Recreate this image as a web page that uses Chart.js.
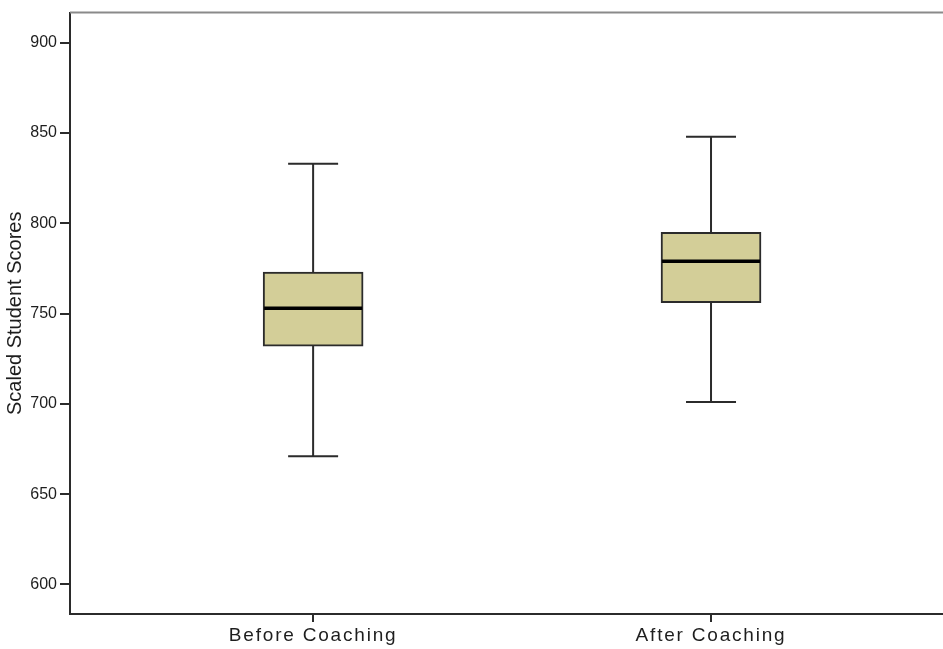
<!DOCTYPE html>
<html>
<head>
<meta charset="utf-8">
<script src="https://cdn.jsdelivr.net/npm/chart.js@4/dist/chart.umd.min.js"></script>
<style>
  html, body { margin: 0; padding: 0; background: #fff; overflow: hidden; }
  #wrap { width: 943px; height: 649px; }
</style>
</head>
<body>
<div id="wrap"><canvas id="box"></canvas></div>
<script>
// Boxplot of scaled student scores, before / after coaching
var categories   = ['Before Coaching', 'After Coaching'];
var whiskerLow   = [671, 701];
var q1           = [732, 756];
var medians      = [753, 779];
var q3           = [773, 795];
var whiskerHigh  = [833, 848];
var yTicks       = [600, 650, 700, 750, 800, 850, 900];

var boxFill   = '#d3ce98';
var lineColor = '#2b2b2b';

// boxes as floating bars, x = 1..n on a linear scale
var boxData = categories.map(function (c, i) {
    return { x: i + 1, y: [q1[i], q3[i]] };
});

// whiskers, caps and medians drawn on top of the bars
var boxExtras = {
    id: 'boxExtras',
    afterDatasetsDraw: function (chart) {
        var ctx = chart.ctx;
        var xs = chart.scales.x, ys = chart.scales.y;
        ctx.save();
        categories.forEach(function (c, i) {
            var cx = xs.getPixelForValue(i + 1);
            var capHalf = 25, boxHalf = 49;
            ctx.strokeStyle = lineColor;
            ctx.lineWidth = 2;
            ctx.beginPath();
            ctx.moveTo(cx, ys.getPixelForValue(q3[i]));
            ctx.lineTo(cx, ys.getPixelForValue(whiskerHigh[i]));
            ctx.moveTo(cx, ys.getPixelForValue(q1[i]));
            ctx.lineTo(cx, ys.getPixelForValue(whiskerLow[i]));
            ctx.moveTo(cx - capHalf, ys.getPixelForValue(whiskerHigh[i]));
            ctx.lineTo(cx + capHalf, ys.getPixelForValue(whiskerHigh[i]));
            ctx.moveTo(cx - capHalf, ys.getPixelForValue(whiskerLow[i]));
            ctx.lineTo(cx + capHalf, ys.getPixelForValue(whiskerLow[i]));
            ctx.stroke();

            ctx.strokeStyle = '#000';
            ctx.lineWidth = 3.5;
            ctx.beginPath();
            ctx.moveTo(cx - boxHalf, ys.getPixelForValue(medians[i]));
            ctx.lineTo(cx + boxHalf, ys.getPixelForValue(medians[i]));
            ctx.stroke();
        });
        // gray frame line along the top of the plot
        var a = chart.chartArea;
        ctx.strokeStyle = '#8a8a8a';
        ctx.lineWidth = 2;
        ctx.beginPath();
        ctx.moveTo(a.left, a.top);
        ctx.lineTo(chart.width, a.top);
        ctx.stroke();
        ctx.restore();
    }
};

new Chart(document.getElementById('box'), {
    type: 'bar',
    data: {
        datasets: [{
            data: boxData,
            backgroundColor: boxFill,
            borderColor: lineColor,
            borderWidth: 2,
            borderSkipped: false,
            barThickness: 100
        }]
    },
    plugins: [boxExtras],
    options: {
        responsive: true,
        maintainAspectRatio: false,
        animation: false,
        layout: { padding: { top: 11, right: 0, bottom: 0, left: 0 } },
        plugins: {
            legend: { display: false },
            tooltip: { enabled: false }
        },
        scales: {
            x: {
                type: 'linear',
                offset: false,
                min: 0.389,
                max: 2.583,
                afterBuildTicks: function (s) {
                    s.ticks = categories.map(function (c, i) { return { value: i + 1 }; });
                },
                afterFit: function (s) {
                    s.height = 35;
                    // SPSS-style spaced category labels
                    if (!s._spaced) {
                        var draw = s.drawLabels.bind(s);
                        s.drawLabels = function (area) {
                            var prev = s.ctx.letterSpacing;
                            s.ctx.letterSpacing = '1.8px';
                            draw(area);
                            s.ctx.letterSpacing = prev;
                        };
                        s._spaced = true;
                    }
                },
                ticks: {
                    autoSkip: false,
                    maxRotation: 0,
                    padding: 2,
                    color: '#1e1e1e',
                    font: { family: 'Liberation Sans', size: 19 },
                    callback: function (v) { return categories[v - 1]; }
                },
                grid: {
                    offset: false,
                    drawOnChartArea: false,
                    drawTicks: true,
                    tickLength: 8,
                    color: lineColor,
                    lineWidth: 2
                },
                border: { color: lineColor, width: 2 }
            },
            y: {
                min: 583.6,
                max: 916.7,
                afterBuildTicks: function (s) {
                    s.ticks = yTicks.map(function (v) { return { value: v }; });
                },
                afterFit: function (s) { s.width = 70; },
                title: {
                    display: true,
                    text: 'Scaled Student Scores',
                    color: '#1e1e1e',
                    font: { family: 'Liberation Sans', size: 20 },
                    padding: { top: 3, bottom: 0 }
                },
                ticks: {
                    padding: 3,
                    color: '#1e1e1e',
                    font: { family: 'Liberation Sans', size: 16 }
                },
                grid: {
                    drawOnChartArea: false,
                    drawTicks: true,
                    tickLength: 10,
                    color: lineColor,
                    lineWidth: 2
                },
                border: { color: lineColor, width: 2 }
            }
        }
    }
});
</script>
</body>
</html>
